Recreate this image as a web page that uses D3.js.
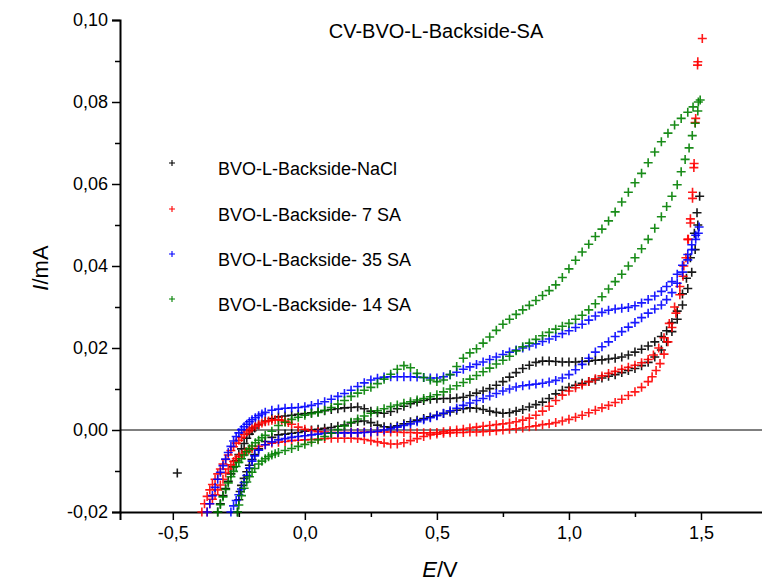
<!DOCTYPE html>
<html><head><meta charset="utf-8">
<script src="https://cdn.jsdelivr.net/npm/d3@7"></script>
<style>
html,body{margin:0;padding:0;background:#fff;}
svg{display:block;font-family:"Liberation Sans",Arial,sans-serif;}
</style></head>
<body><svg id="c" width="762" height="584"></svg>
<script>
// ---- data (E in V, I in mA) ----
const seriesNames = ["BVO-L-Backside-NaCl","BVO-L-Backside- 7 SA","BVO-L-Backside- 35 SA","BVO-L-Backside- 14 SA"];
const seriesColors = ["#000000","#ff0000","#0000ff","#008000"];
const xMajorTicks = [-0.5,0,0.5,1.0,1.5];
const xMinorTicks = [-0.25,0.25,0.75,1.25];
const yMajorTicks = [-0.02,0,0.02,0.04,0.06,0.08,0.10];
const yMinorTicks = [-0.01,0.01,0.03,0.05,0.07,0.09];

const naclA = [[-0.483,-0.0105],
[-0.33,-0.0200],[-0.32,-0.0180],[-0.31,-0.0160],[-0.30,-0.0143],[-0.29,-0.0125],[-0.28,-0.0107],[-0.27,-0.0090],[-0.26,-0.0075],[-0.25,-0.0060],[-0.24,-0.0046],[-0.23,-0.0033],[-0.22,-0.0020],[-0.21,-0.0010],[-0.20,-0.0002],[-0.19,0.0005],[-0.175,0.0013],[-0.15,0.0022],[-0.125,0.0028],[-0.10,0.0032],[-0.075,0.0034],[-0.05,0.0036],[-0.025,0.0038],[0,0.0040],[0.025,0.0042],[0.05,0.0044],[0.075,0.0047],[0.10,0.0050],[0.125,0.0052],[0.15,0.0054],[0.175,0.0055],[0.20,0.0056],[0.225,0.0052],[0.25,0.0046],[0.275,0.0042],[0.30,0.0041],[0.325,0.0045],[0.35,0.0052],[0.375,0.0058],[0.40,0.0064],[0.425,0.0068],[0.45,0.0072],[0.475,0.0075],[0.50,0.0076],[0.525,0.0077],[0.55,0.0077],[0.575,0.0078],[0.60,0.0080],[0.625,0.0084],[0.65,0.0090],[0.675,0.0095],[0.70,0.0101],[0.725,0.0109],[0.75,0.0118],[0.775,0.0129],[0.80,0.0140],[0.825,0.0150],[0.85,0.0158],[0.875,0.0165],[0.90,0.0168],[0.925,0.0168],[0.95,0.0167],[0.975,0.0166],[1.0,0.0166],[1.025,0.0166],[1.05,0.0167],[1.075,0.0168],[1.10,0.0170],[1.125,0.0171],[1.15,0.0173],[1.175,0.0175],[1.20,0.0178],[1.225,0.0183],[1.25,0.0190],[1.275,0.0197],[1.30,0.0205],[1.325,0.0215],[1.35,0.0228],[1.37,0.0242],[1.39,0.0262],[1.41,0.0290],[1.43,0.0332],[1.445,0.0370],[1.46,0.0420],[1.475,0.0480],[1.485,0.0530],[1.495,0.0570]];
const naclB = [[-0.255,-0.0200],[-0.25,-0.0170],[-0.245,-0.0150],[-0.24,-0.0135],[-0.23,-0.0118],[-0.22,-0.0102],[-0.21,-0.0086],[-0.20,-0.0072],[-0.19,-0.0060],[-0.175,-0.0046],[-0.15,-0.0028],[-0.125,-0.0018],[-0.10,-0.0012],[-0.075,-0.0010],[-0.05,-0.0008],[-0.025,-0.0006],[0,-0.0003],[0.025,0],[0.05,0.0002],[0.075,0.0004],[0.10,0.0006],[0.125,0.0009],[0.15,0.0012],[0.175,0.0017],[0.20,0.0021],[0.225,0.0022],[0.25,0.0018],[0.275,0.0012],[0.30,0.0008],[0.325,0.0007],[0.35,0.0010],[0.375,0.0015],[0.40,0.0020],[0.425,0.0024],[0.45,0.0028],[0.475,0.0032],[0.50,0.0036],[0.525,0.0040],[0.55,0.0044],[0.575,0.0048],[0.60,0.0052],[0.625,0.0054],[0.65,0.0053],[0.675,0.0050],[0.70,0.0046],[0.725,0.0043],[0.75,0.0041],[0.775,0.0042],[0.80,0.0046],[0.825,0.0050],[0.85,0.0056],[0.875,0.0062],[0.90,0.0068],[0.925,0.0077],[0.95,0.0088],[0.975,0.0097],[1.0,0.0104],[1.025,0.0109],[1.05,0.0114],[1.075,0.0118],[1.10,0.0122],[1.125,0.0127],[1.15,0.0131],[1.175,0.0135],[1.20,0.0140],[1.225,0.0145],[1.25,0.0150],[1.275,0.0157],[1.30,0.0165],[1.325,0.0178],[1.35,0.0195],[1.37,0.0215],[1.39,0.0240],[1.41,0.0270],[1.43,0.0305],[1.45,0.0345],[1.465,0.0385],[1.478,0.0440],[1.488,0.0500]];

const sa7A = [[-0.39,-0.0200],[-0.38,-0.0180],[-0.37,-0.0162],[-0.36,-0.0146],[-0.35,-0.0133],[-0.34,-0.0120],[-0.33,-0.0107],[-0.32,-0.0095],[-0.31,-0.0083],[-0.30,-0.0072],[-0.29,-0.0061],[-0.28,-0.0050],[-0.27,-0.0041],[-0.26,-0.0032],[-0.25,-0.0025],[-0.24,-0.0018],[-0.23,-0.0011],[-0.22,-0.0005],[-0.21,0],[-0.20,0.0005],[-0.1875,0.0009],[-0.175,0.0013],[-0.1625,0.0017],[-0.15,0.0020],[-0.1375,0.0022],[-0.125,0.0024],[-0.1125,0.0025],[-0.10,0.0025],[-0.0875,0.0024],[-0.075,0.0021],[-0.0625,0.0018],[-0.05,0.0014],[-0.025,0.0007],[0,0.0002],[0.025,-0.0002],[0.05,-0.0004],[0.075,-0.0005],[0.10,-0.0006],[0.125,-0.0006],[0.15,-0.0006],[0.175,-0.0006],[0.20,-0.0006],[0.225,-0.0005],[0.25,-0.0005],[0.275,-0.0005],[0.30,-0.0005],[0.325,-0.0005],[0.35,-0.0005],[0.375,-0.0006],[0.40,-0.0006],[0.425,-0.0007],[0.45,-0.0007],[0.475,-0.0007],[0.50,-0.0006],[0.525,-0.0004],[0.55,-0.0002],[0.575,0],[0.60,0.0002],[0.625,0.0005],[0.65,0.0007],[0.675,0.0009],[0.70,0.0011],[0.725,0.0013],[0.75,0.0015],[0.775,0.0017],[0.80,0.0020],[0.825,0.0024],[0.85,0.0029],[0.875,0.0036],[0.90,0.0046],[0.925,0.0058],[0.95,0.0072],[0.975,0.0085],[1.0,0.0095],[1.025,0.0103],[1.05,0.0110],[1.075,0.0118],[1.10,0.0125],[1.125,0.0132],[1.15,0.0138],[1.175,0.0143],[1.20,0.0148],[1.225,0.0153],[1.25,0.0158],[1.275,0.0164],[1.30,0.0172],[1.32,0.0183],[1.34,0.0200],[1.36,0.0225],[1.38,0.0260],[1.40,0.0300],[1.42,0.0350],[1.435,0.0400],[1.45,0.0465],[1.46,0.0515],[1.468,0.0580],[1.474,0.0650],[1.478,0.0750],[1.487,0.0890],[1.505,0.0955]];
const sa7B = [[-0.37,-0.0200],[-0.36,-0.0180],[-0.35,-0.0169],[-0.34,-0.0158],[-0.33,-0.0146],[-0.32,-0.0134],[-0.31,-0.0120],[-0.30,-0.0105],[-0.29,-0.0095],[-0.28,-0.0085],[-0.27,-0.0077],[-0.26,-0.0070],[-0.25,-0.0065],[-0.2375,-0.0059],[-0.225,-0.0053],[-0.2125,-0.0049],[-0.20,-0.0045],[-0.175,-0.0040],[-0.15,-0.0036],[-0.125,-0.0032],[-0.10,-0.0030],[-0.075,-0.0028],[-0.05,-0.0026],[-0.025,-0.0025],[0,-0.0024],[0.025,-0.0023],[0.05,-0.0022],[0.075,-0.0021],[0.10,-0.0020],[0.125,-0.0020],[0.15,-0.0020],[0.175,-0.0020],[0.20,-0.0021],[0.225,-0.0023],[0.25,-0.0026],[0.275,-0.0029],[0.30,-0.0032],[0.325,-0.0034],[0.35,-0.0034],[0.375,-0.0031],[0.40,-0.0026],[0.425,-0.0021],[0.45,-0.0016],[0.475,-0.0012],[0.50,-0.0010],[0.525,-0.0008],[0.55,-0.0007],[0.575,-0.0006],[0.60,-0.0006],[0.625,-0.0005],[0.65,-0.0005],[0.675,-0.0004],[0.70,-0.0003],[0.725,-0.0002],[0.75,0],[0.775,0.0002],[0.80,0.0003],[0.825,0.0005],[0.85,0.0008],[0.875,0.0010],[0.90,0.0013],[0.925,0.0015],[0.95,0.0018],[0.975,0.0022],[1.0,0.0026],[1.025,0.0031],[1.05,0.0036],[1.075,0.0042],[1.10,0.0048],[1.125,0.0054],[1.15,0.0060],[1.175,0.0067],[1.20,0.0075],[1.225,0.0084],[1.25,0.0093],[1.275,0.0104],[1.30,0.0118],[1.315,0.0130],[1.33,0.0145],[1.345,0.0162],[1.36,0.0185],[1.375,0.0215],[1.39,0.0250],[1.405,0.0285],[1.42,0.0330],[1.432,0.0375],[1.443,0.0420],[1.452,0.0465],[1.46,0.0505],[1.468,0.0565],[1.473,0.0640],[1.48,0.0760],[1.488,0.0898]];

const sa35A = [[-0.37,-0.0200],[-0.36,-0.0180],[-0.35,-0.0160],[-0.34,-0.0140],[-0.33,-0.0120],[-0.32,-0.0103],[-0.31,-0.0087],[-0.30,-0.0071],[-0.29,-0.0055],[-0.28,-0.0040],[-0.27,-0.0027],[-0.26,-0.0016],[-0.25,-0.0007],[-0.24,0.0001],[-0.23,0.0008],[-0.22,0.0014],[-0.21,0.0020],[-0.20,0.0025],[-0.1875,0.0030],[-0.175,0.0035],[-0.1625,0.0039],[-0.15,0.0043],[-0.125,0.0048],[-0.10,0.0051],[-0.075,0.0053],[-0.05,0.0054],[-0.025,0.0055],[0,0.0057],[0.025,0.0060],[0.05,0.0064],[0.075,0.0069],[0.10,0.0075],[0.125,0.0082],[0.15,0.0089],[0.175,0.0097],[0.20,0.0106],[0.225,0.0115],[0.25,0.0122],[0.275,0.0126],[0.30,0.0129],[0.325,0.0130],[0.35,0.0130],[0.375,0.0130],[0.40,0.0130],[0.425,0.0129],[0.45,0.0128],[0.475,0.0127],[0.50,0.0127],[0.525,0.0130],[0.55,0.0135],[0.575,0.0141],[0.60,0.0148],[0.625,0.0154],[0.65,0.0160],[0.675,0.0166],[0.70,0.0172],[0.725,0.0178],[0.75,0.0184],[0.775,0.0190],[0.80,0.0195],[0.825,0.0200],[0.85,0.0205],[0.875,0.0210],[0.90,0.0216],[0.925,0.0222],[0.95,0.0228],[0.975,0.0235],[1.0,0.0242],[1.025,0.0250],[1.05,0.0258],[1.075,0.0268],[1.10,0.0278],[1.125,0.0287],[1.15,0.0292],[1.175,0.0295],[1.20,0.0297],[1.225,0.0299],[1.25,0.0303],[1.275,0.0310],[1.30,0.0318],[1.325,0.0327],[1.35,0.0338],[1.37,0.0350],[1.39,0.0362],[1.41,0.0380],[1.43,0.0402],[1.45,0.0428],[1.465,0.0452],[1.48,0.0475],[1.493,0.0495]];
const sa35B = [[-0.28,-0.0200],[-0.27,-0.0185],[-0.26,-0.0172],[-0.25,-0.0158],[-0.24,-0.0144],[-0.23,-0.0128],[-0.22,-0.0111],[-0.21,-0.0093],[-0.20,-0.0076],[-0.19,-0.0063],[-0.175,-0.0049],[-0.15,-0.0036],[-0.125,-0.0029],[-0.10,-0.0024],[-0.075,-0.0021],[-0.05,-0.0018],[-0.025,-0.0016],[0,-0.0014],[0.025,-0.0012],[0.05,-0.0010],[0.075,-0.0008],[0.10,-0.0007],[0.125,-0.0007],[0.15,-0.0007],[0.175,-0.0007],[0.20,-0.0007],[0.225,-0.0006],[0.25,-0.0005],[0.275,-0.0003],[0.30,0],[0.325,0.0003],[0.35,0.0007],[0.375,0.0011],[0.40,0.0015],[0.425,0.0020],[0.45,0.0025],[0.475,0.0030],[0.50,0.0035],[0.525,0.0041],[0.55,0.0047],[0.575,0.0053],[0.60,0.0060],[0.625,0.0066],[0.65,0.0072],[0.675,0.0077],[0.70,0.0083],[0.725,0.0089],[0.75,0.0095],[0.775,0.0100],[0.80,0.0105],[0.825,0.0108],[0.85,0.0110],[0.875,0.0112],[0.90,0.0114],[0.925,0.0117],[0.95,0.0121],[0.975,0.0127],[1.0,0.0135],[1.025,0.0147],[1.05,0.0160],[1.075,0.0175],[1.10,0.0190],[1.125,0.0203],[1.15,0.0215],[1.175,0.0228],[1.20,0.0240],[1.225,0.0251],[1.25,0.0262],[1.275,0.0274],[1.30,0.0285],[1.325,0.0295],[1.35,0.0305],[1.37,0.0318],[1.39,0.0335],[1.41,0.0358],[1.43,0.0385],[1.45,0.0415],[1.465,0.0440],[1.48,0.0465],[1.49,0.0480]];

const sa14A = [[-0.33,-0.0200],[-0.32,-0.0182],[-0.31,-0.0163],[-0.30,-0.0145],[-0.29,-0.0129],[-0.28,-0.0114],[-0.27,-0.0101],[-0.26,-0.0089],[-0.25,-0.0079],[-0.24,-0.0070],[-0.23,-0.0061],[-0.22,-0.0053],[-0.21,-0.0046],[-0.20,-0.0039],[-0.1875,-0.0031],[-0.175,-0.0025],[-0.1625,-0.0019],[-0.15,-0.0013],[-0.125,-0.0003],[-0.10,0.0011],[-0.075,0.0019],[-0.05,0.0026],[-0.025,0.0031],[0,0.0036],[0.025,0.0040],[0.05,0.0043],[0.075,0.0048],[0.10,0.0055],[0.125,0.0063],[0.15,0.0072],[0.175,0.0082],[0.20,0.0090],[0.225,0.0097],[0.25,0.0104],[0.275,0.0113],[0.30,0.0124],[0.325,0.0136],[0.35,0.0148],[0.375,0.0157],[0.40,0.0152],[0.425,0.0138],[0.45,0.0128],[0.475,0.0122],[0.50,0.0118],[0.525,0.0122],[0.55,0.0135],[0.575,0.0155],[0.60,0.0175],[0.625,0.0188],[0.65,0.0198],[0.675,0.0212],[0.70,0.0227],[0.725,0.0243],[0.75,0.0258],[0.775,0.0270],[0.80,0.0282],[0.825,0.0293],[0.85,0.0304],[0.875,0.0316],[0.90,0.0328],[0.925,0.0340],[0.95,0.0354],[0.975,0.0372],[1.0,0.0393],[1.025,0.0414],[1.05,0.0434],[1.075,0.0453],[1.10,0.0472],[1.125,0.0490],[1.15,0.0510],[1.175,0.0532],[1.20,0.0556],[1.225,0.0580],[1.25,0.0603],[1.275,0.0626],[1.30,0.0652],[1.325,0.0678],[1.35,0.0703],[1.375,0.0724],[1.40,0.0744],[1.425,0.0760],[1.45,0.0775],[1.47,0.0788],[1.49,0.0800],[1.497,0.0805]];
const sa14B = [[-0.255,-0.0200],[-0.25,-0.0183],[-0.24,-0.0160],[-0.23,-0.0142],[-0.22,-0.0127],[-0.21,-0.0114],[-0.20,-0.0103],[-0.19,-0.0094],[-0.175,-0.0083],[-0.1625,-0.0076],[-0.15,-0.0070],[-0.1375,-0.0065],[-0.125,-0.0061],[-0.1125,-0.0058],[-0.10,-0.0055],[-0.075,-0.0050],[-0.05,-0.0045],[-0.025,-0.0040],[0,-0.0035],[0.025,-0.0030],[0.05,-0.0024],[0.075,-0.0016],[0.10,-0.0008],[0.125,0.0001],[0.15,0.0010],[0.175,0.0019],[0.20,0.0027],[0.225,0.0034],[0.25,0.0041],[0.275,0.0047],[0.30,0.0052],[0.325,0.0057],[0.35,0.0061],[0.375,0.0065],[0.40,0.0069],[0.425,0.0073],[0.45,0.0077],[0.475,0.0081],[0.50,0.0086],[0.525,0.0093],[0.55,0.0100],[0.575,0.0108],[0.60,0.0116],[0.625,0.0124],[0.65,0.0133],[0.675,0.0142],[0.70,0.0151],[0.725,0.0161],[0.75,0.0170],[0.775,0.0180],[0.80,0.0193],[0.825,0.0203],[0.85,0.0212],[0.875,0.0221],[0.90,0.0230],[0.925,0.0238],[0.95,0.0246],[0.975,0.0253],[1.0,0.0260],[1.025,0.0270],[1.05,0.0280],[1.075,0.0293],[1.10,0.0308],[1.125,0.0325],[1.15,0.0344],[1.175,0.0362],[1.20,0.0380],[1.225,0.0400],[1.25,0.0420],[1.275,0.0442],[1.30,0.0465],[1.325,0.0492],[1.35,0.0520],[1.37,0.0545],[1.39,0.0570],[1.41,0.0598],[1.425,0.0630],[1.44,0.0660],[1.455,0.0688],[1.467,0.0718],[1.478,0.0748],[1.488,0.0778]];

const seriesData = [naclA.concat(naclB), sa7A.concat(sa7B), sa35A.concat(sa35B), sa14A.concat(sa14B)];

// ---- layout ----
const svg = d3.select("#c");
const x = d3.scaleLinear().domain([-0.7, 1.75]).range([120, 767]);
const y = d3.scaleLinear().domain([-0.02, 0.10]).range([512, 20]);
const fmt = d => d3.format(".1f")(d).replace(".", ",").replace("−","-");
const fmtY = d => d3.format(".2f")(d).replace(".", ",").replace("−","-");

// zero line
svg.append("line").attr("x1", 120).attr("x2", 762).attr("y1", y(0)).attr("y2", y(0))
  .attr("stroke", "#000").attr("stroke-width", 1);

// axes
const gx = svg.append("g").attr("transform", `translate(0,${y(-0.02)})`)
  .call(d3.axisBottom(x).tickValues(xMajorTicks).tickSize(8).tickPadding(6).tickFormat(fmt));
const gxm = svg.append("g").attr("transform", `translate(0,${y(-0.02)})`)
  .call(d3.axisBottom(x).tickValues(xMinorTicks).tickSize(5).tickFormat(""));
const gy = svg.append("g").attr("transform", `translate(${x(-0.7)},0)`)
  .call(d3.axisLeft(y).tickValues(yMajorTicks).tickSize(8).tickPadding(4).tickFormat(fmtY));
const gym = svg.append("g").attr("transform", `translate(${x(-0.7)},0)`)
  .call(d3.axisLeft(y).tickValues(yMinorTicks).tickSize(5).tickFormat(""));
[gx,gxm,gy,gym].forEach(g => {
  g.select(".domain").attr("stroke","#000").attr("stroke-width",2);
  g.selectAll(".tick line").attr("stroke","#000").attr("stroke-width",1.5);
  g.selectAll("text").attr("fill","#000").style("font-size","18px").style("font-family","'Liberation Sans',Arial,sans-serif");
});
gym.select(".domain").remove(); gxm.select(".domain").remove();

// markers
const plus = "M-4.5,0H4.5M0,-4.5V4.5";
seriesData.forEach((pts, i) => {
  svg.append("g").selectAll("path").data(pts).join("path")
    .attr("d", plus)
    .attr("transform", d => `translate(${x(d[0])},${y(d[1])})`)
    .attr("stroke", seriesColors[i]).attr("stroke-width", 1.6).attr("fill","none")
    .attr("opacity", 0.9);
});

// title
svg.append("text").attr("x", 436).attr("y", 38).attr("text-anchor","middle")
  .style("font-size","20px").text("CV-BVO-L-Backside-SA");

// legend
const legY = [163, 209, 254, 299];
seriesNames.forEach((n, i) => {
  svg.append("path").attr("d","M-3,0H3M0,-3V3")
    .attr("transform", `translate(172,${legY[i]})`)
    .attr("stroke", seriesColors[i]).attr("stroke-width",1.1);
  svg.append("text").attr("x", 218).attr("y", legY[i] + 12)
    .style("font-size","18px").text(n);
});

// axis titles
const xt = svg.append("text").attr("x", 440).attr("y", 577).attr("text-anchor","middle").style("font-size","22px");
xt.append("tspan").style("font-style","italic").text("E");
xt.append("tspan").text("/V");
const yt = svg.append("text").attr("transform","translate(48,268) rotate(-90)").attr("text-anchor","middle").style("font-size","22px");
yt.append("tspan").style("font-style","italic").text("I");
yt.append("tspan").text("/mA");
</script></body></html>
